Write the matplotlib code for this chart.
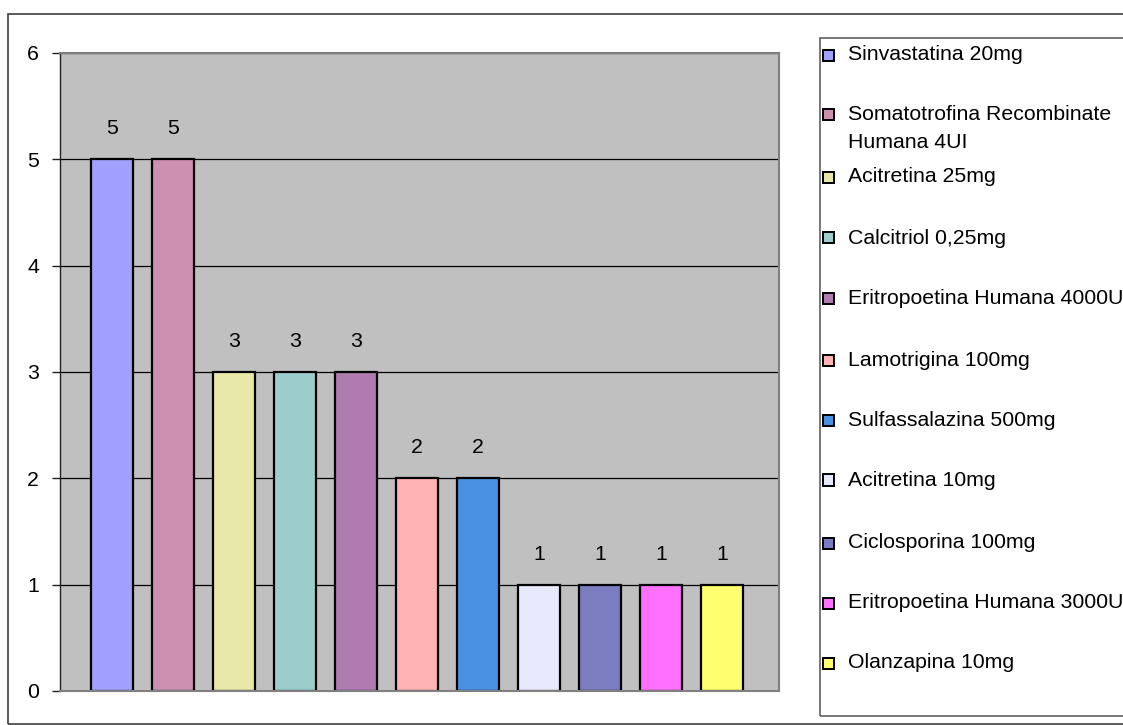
import matplotlib
matplotlib.use("Agg")
import matplotlib.pyplot as plt
from matplotlib.patches import Rectangle

plt.rcParams['font.family'] = ['Liberation Sans', 'DejaVu Sans']

categories = [
    "Sinvastatina 20mg",
    "Somatotrofina Recombinate\nHumana 4UI",
    "Acitretina 25mg",
    "Calcitriol 0,25mg",
    "Eritropoetina Humana 4000UI",
    "Lamotrigina 100mg",
    "Sulfassalazina 500mg",
    "Acitretina 10mg",
    "Ciclosporina 100mg",
    "Eritropoetina Humana 3000UI",
    "Olanzapina 10mg",
]
values = [5, 5, 3, 3, 3, 2, 2, 1, 1, 1, 1]
colors = ["#A0A0FF", "#CC90B0", "#E8E8A8", "#9CCCCC", "#B07CB0", "#FFB4B4",
          "#4A90E0", "#E8E8FF", "#7C7CC0", "#FF70FF", "#FFFF70"]
yticks = [0, 1, 2, 3, 4, 5, 6]

W, H = 1123, 725
FS = 15.3
fig = plt.figure(figsize=(W / 100, H / 100), dpi=100)

def fx(px):
    return px / W

def fy(py):
    return 1 - py / H

# outer chart border
fig.patches.append(Rectangle((fx(8), fy(724)), 1.2, fy(14) - fy(724),
                             transform=fig.transFigure, fill=False,
                             edgecolor="#404040", linewidth=1.2))

ax = fig.add_axes([fx(60), fy(691), fx(779) - fx(60), fy(53) - fy(691)])
ax.set_facecolor("#C0C0C0")

x = list(range(len(values)))
bars = ax.bar(x, values, width=42 / 61, color=colors, edgecolor="black",
              linewidth=1.6, zorder=3)
for xi, v in zip(x, values):
    ax.annotate(str(v), (xi, v), xytext=(0, 22), textcoords="offset points",
                ha="center", va="center", fontsize=FS, zorder=4)

ax.set_xlim(-0.852, 10.934)
ax.set_ylim(0, 6)
ax.set_yticks(yticks)
ax.set_yticklabels([str(t) for t in yticks], fontsize=FS)
ax.set_xticks([])
ax.tick_params(axis="y", length=6, width=1, pad=9, color="#202020")
ax.grid(axis="y", color="black", linewidth=0.9, zorder=1)
ax.set_axisbelow(True)
for side in ("top", "right", "bottom"):
    ax.spines[side].set_color("#808080")
    ax.spines[side].set_linewidth(1.5)
    ax.spines[side].set_zorder(5)
ax.spines["left"].set_color("#202020")
ax.spines["left"].set_linewidth(1.0)

# legend box
fig.patches.append(Rectangle((fx(820), fy(716)), 1.0, fy(38) - fy(716),
                             transform=fig.transFigure, fill=False,
                             edgecolor="#606060", linewidth=1.2))
entry_y = [55, 114, 177, 238, 298, 360, 420, 480, 543, 603, 663]
for lbl, col, py in zip(categories, colors, entry_y):
    fig.patches.append(Rectangle((fx(823), fy(py + 5.5)), fx(11), fy(py - 5.5) - fy(py + 5.5),
                                 transform=fig.transFigure, facecolor=col,
                                 edgecolor="black", linewidth=1.4))
    lines = lbl.split("\n")
    for k, ln in enumerate(lines):
        fig.text(fx(848), fy(py + k * 29), ln, ha="left", va="center",
                 fontsize=FS)

fig.savefig("out.png", dpi=100)
